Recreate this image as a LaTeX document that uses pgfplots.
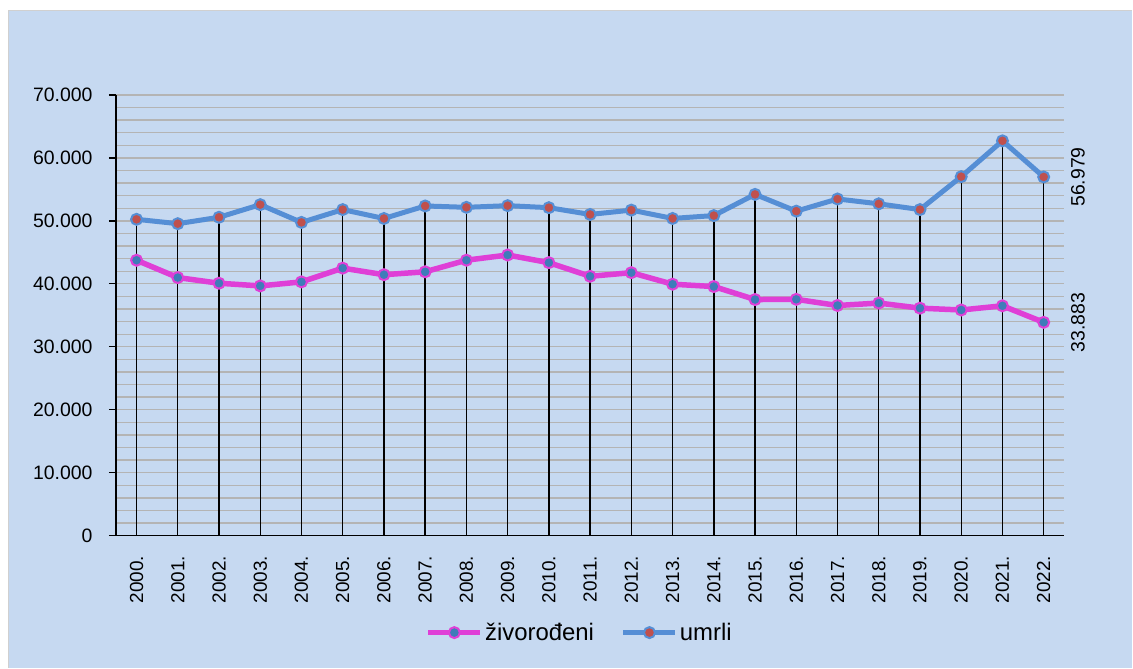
\documentclass[border=0pt]{standalone}
\usepackage{fontspec}
\setmainfont{Liberation Sans}
\usepackage{pgfplots}
\usepackage{pgfplotstable}
\pgfplotsset{compat=1.18}
\definecolor{bgblue}{HTML}{C6D9F1}
\definecolor{framegray}{HTML}{D0D0D0}
\definecolor{gridgray}{HTML}{B4B4B4}
\definecolor{magline}{HTML}{DF3FD7}
\definecolor{bluemark}{HTML}{3F7CB9}
\definecolor{blueline}{HTML}{558ED5}
\definecolor{redmark}{HTML}{C0504D}

\pgfplotstableread{
x y
0 43746
1 40993
2 40094
3 39668
4 40307
5 42492
6 41446
7 41910
8 43753
9 44577
10 43361
11 41197
12 41771
13 39939
14 39566
15 37503
16 37537
17 36556
18 36945
19 36135
20 35845
21 36508
22 33883
}\rodeni

\pgfplotstableread{
x y
0 50246
1 49552
2 50569
3 52575
4 49756
5 51790
6 50378
7 52367
8 52151
9 52414
10 52096
11 51019
12 51710
13 50386
14 50839
15 54205
16 51542
17 53477
18 52706
19 51794
20 57023
21 62712
22 56979
}\umrli

\begin{document}
\begin{tikzpicture}
\fill[white] (0bp,0bp) rectangle (1133bp,-668bp);
\fill[bgblue] (8.5bp,-10.5bp) rectangle (1133bp,-668bp);
\draw[framegray, line width=1.5bp] (8.5bp,-668bp) -- (8.5bp,-10.5bp) -- (1133bp,-10.5bp);
\begin{axis}[
  at={(116bp,-536bp)}, anchor=south west,
  scale only axis, width=949bp, height=441bp,
  xmin=-0.5, xmax=22.5, ymin=0, ymax=70000,
  clip=false,
  scaled y ticks=false,
  axis x line*=bottom, axis y line*=left,
  axis line style={black, line width=1.6bp, -},
  xtick={0,...,22},
  xticklabels={2000.,2001.,2002.,2003.,2004.,2005.,2006.,2007.,2008.,2009.,2010.,2011.,2012.,2013.,2014.,2015.,2016.,2017.,2018.,2019.,2020.,2021.,2022.},
  x tick label style={rotate=90, anchor=east, font=\fontsize{19}{22}\selectfont, xshift=-10bp},
  x tick style={draw=none},
  ytick={0,10000,...,70000},
  minor ytick={2000,4000,...,68000},
  ymajorgrids, yminorgrids,
  major grid style={gridgray, line width=1.3bp},
  minor grid style={gridgray, line width=1.3bp},
  y tick style={black, line width=1.3bp},
  tick align=outside,
  major tick length=7bp,
  minor tick length=0bp,
  y tick label style={font=\fontsize{19.5}{22}\selectfont, xshift=-13bp, /pgf/number format/fixed, /pgf/number format/1000 sep={.}},
  /pgf/number format/assume math mode=true,
  legend style={draw=none, fill=none, at={(0.489,-0.22)}, anchor=center,
    font=\fontsize{24}{28}\selectfont,
    /tikz/every even column/.append style={column sep=25bp},
    nodes={inner sep=2bp}},
  legend columns=2,
  legend cell align=left,
  legend image code/.code={\draw[mark repeat=2, mark phase=2] plot coordinates {(0bp,0bp) (26bp,0bp) (52bp,0bp)};},
]
\addplot[magline, line width=5.5bp, mark=*, mark size=5.5bp,
  mark options={fill=bluemark, draw=magline, line width=2bp}] table[x=x,y=y] {\rodeni};
\addlegendentry{živorođeni}
\addplot[blueline, line width=5bp, mark=*, mark size=5.5bp,
  mark options={fill=redmark, draw=blueline, line width=2bp}] table[x=x,y=y] {\umrli};
\addlegendentry{umrli}
\addplot[ycomb, black, line width=1.4bp, mark=none, forget plot] table[x=x,y=y] {\umrli};
\addplot[draw=none, mark=none, forget plot, nodes near coords, point meta=explicit symbolic,
  every node near coord/.style={font=\fontsize{19.5}{22}\selectfont, xshift=24bp, anchor=north, rotate=90}]
  coordinates {(22,56979) [56.979] (22,33883) [33.883]};
\end{axis}
\end{tikzpicture}
\end{document}
